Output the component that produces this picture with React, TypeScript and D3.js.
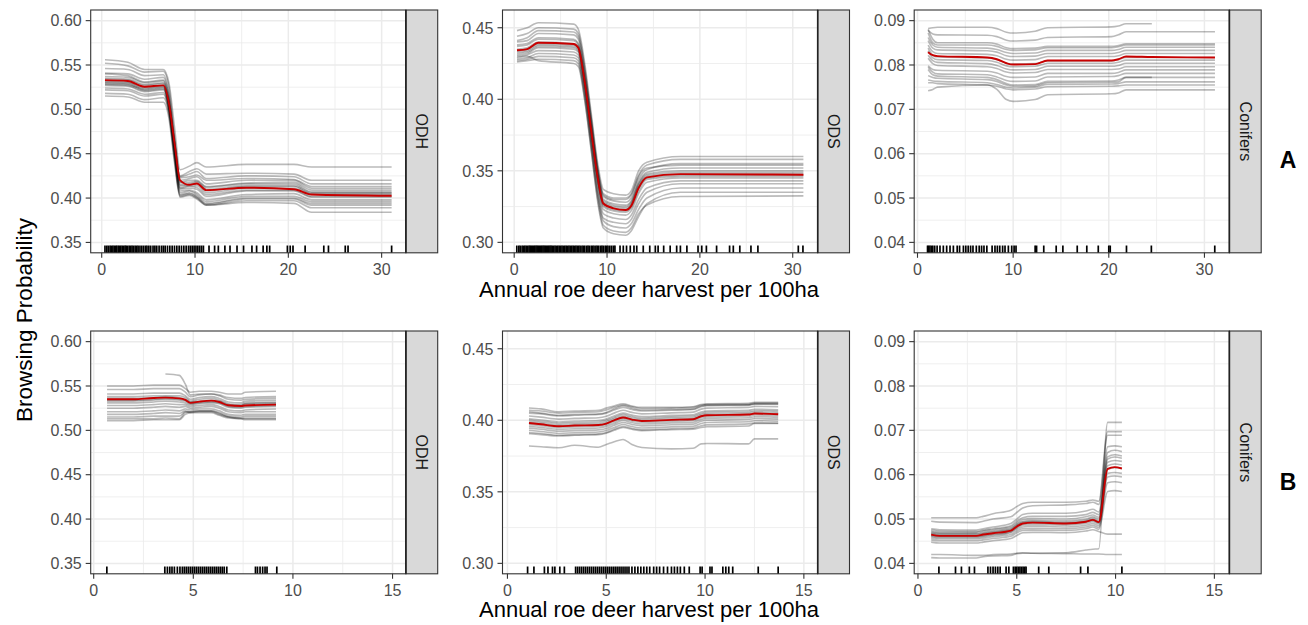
import React from 'react';
import * as d3 from 'd3';

const W = 1308;
const H = 625;

// ---------- row A : x grids, ICE curves, mean curve, rug ----------
const odhA_x = [0.35, 2.8, 4.6, 6.6, 7.2, 7.8, 8.4, 9.4, 10.2, 11.2, 15.5, 20.6, 22.5, 31.07];
const odhA_mean = [0.533, 0.532, 0.5255, 0.527, 0.507, 0.462, 0.42, 0.415, 0.4165, 0.409, 0.4117, 0.41, 0.404, 0.4026];
const odhA_ice = [
  [0.556, 0.553, 0.545, 0.545, 0.53, 0.48, 0.432, 0.436, 0.44, 0.435, 0.438, 0.438, 0.435, 0.435],
  [0.552, 0.549, 0.542, 0.543, 0.525, 0.47, 0.425, 0.43, 0.433, 0.427, 0.428, 0.427, 0.42, 0.42],
  [0.546, 0.545, 0.538, 0.539, 0.518, 0.466, 0.424, 0.427, 0.43, 0.422, 0.425, 0.424, 0.416, 0.416],
  [0.541, 0.54, 0.534, 0.536, 0.515, 0.465, 0.423, 0.424, 0.426, 0.42, 0.422, 0.421, 0.413, 0.413],
  [0.54, 0.538, 0.531, 0.533, 0.512, 0.462, 0.42, 0.422, 0.424, 0.416, 0.42, 0.42, 0.411, 0.411],
  [0.537, 0.536, 0.53, 0.532, 0.51, 0.462, 0.418, 0.42, 0.42, 0.413, 0.417, 0.418, 0.409, 0.409],
  [0.535, 0.534, 0.528, 0.53, 0.508, 0.46, 0.417, 0.418, 0.419, 0.412, 0.416, 0.416, 0.407, 0.407],
  [0.534, 0.533, 0.527, 0.529, 0.507, 0.458, 0.415, 0.416, 0.418, 0.41, 0.414, 0.414, 0.406, 0.406],
  [0.532, 0.531, 0.525, 0.527, 0.505, 0.456, 0.414, 0.415, 0.416, 0.408, 0.413, 0.413, 0.405, 0.405],
  [0.531, 0.53, 0.524, 0.526, 0.504, 0.455, 0.412, 0.414, 0.414, 0.406, 0.411, 0.411, 0.404, 0.404],
  [0.529, 0.528, 0.523, 0.525, 0.503, 0.454, 0.411, 0.413, 0.412, 0.404, 0.409, 0.409, 0.402, 0.402],
  [0.53, 0.529, 0.522, 0.524, 0.503, 0.453, 0.41, 0.411, 0.41, 0.402, 0.408, 0.408, 0.401, 0.401],
  [0.528, 0.527, 0.521, 0.523, 0.502, 0.452, 0.408, 0.409, 0.406, 0.398, 0.404, 0.405, 0.398, 0.398],
  [0.527, 0.526, 0.52, 0.522, 0.5, 0.45, 0.406, 0.408, 0.404, 0.396, 0.402, 0.402, 0.396, 0.396],
  [0.524, 0.523, 0.517, 0.519, 0.498, 0.448, 0.404, 0.406, 0.402, 0.394, 0.4, 0.4, 0.394, 0.394],
  [0.522, 0.521, 0.515, 0.517, 0.497, 0.446, 0.403, 0.405, 0.401, 0.393, 0.399, 0.399, 0.392, 0.392],
  [0.518, 0.517, 0.511, 0.513, 0.494, 0.443, 0.402, 0.404, 0.4, 0.392, 0.397, 0.397, 0.389, 0.389],
  [0.515, 0.514, 0.508, 0.508, 0.49, 0.44, 0.401, 0.403, 0.399, 0.392, 0.395, 0.394, 0.384, 0.384],
];
const odhA_rug = [
  0.35, 0.55, 0.72, 0.9, 1.05, 1.2, 1.35, 1.5, 1.62, 1.78, 1.9, 2.05, 2.2, 2.35, 2.5, 2.62, 2.78, 2.95, 3.1, 3.25,
  3.4, 3.58, 3.75, 3.9, 4.1, 4.3, 4.5, 4.7, 4.85, 5.05, 5.25, 5.5, 5.7, 5.9, 6.15, 6.4, 6.6, 6.8, 7.05, 7.3,
  7.55, 7.8, 8.05, 8.3, 8.55, 8.8, 9.05, 9.3, 9.5, 9.7, 9.9, 10.1, 10.3, 10.5, 10.7, 10.9, 11.5, 12.1, 12.5,
  13.2, 13.75, 14.5, 15.2, 16.1, 16.6, 17.3, 17.7, 18.0, 19.9, 20.2, 20.5, 21.8, 23.8, 24.3, 26.1, 26.4, 31.07,
];

const odsA_x = [0.3, 1.4, 2.6, 6.4, 6.9, 7.6, 8.3, 9.0, 9.6, 10.7, 12.0, 12.6, 13.4, 14.3, 17.9, 31.15];
const odsA_mean = [0.4343, 0.4351, 0.4395, 0.4386, 0.436, 0.412, 0.378, 0.345, 0.3272, 0.3238, 0.3226, 0.3255, 0.338, 0.3454, 0.3477, 0.3473];
const odsA_ice = [
  [0.448, 0.45, 0.4535, 0.4525, 0.449, 0.425, 0.39, 0.355, 0.337, 0.334, 0.333, 0.336, 0.35, 0.356, 0.36, 0.36],
  [0.444, 0.446, 0.45, 0.449, 0.446, 0.422, 0.387, 0.352, 0.334, 0.331, 0.331, 0.334, 0.347, 0.354, 0.358, 0.358],
  [0.441, 0.443, 0.448, 0.447, 0.444, 0.42, 0.386, 0.351, 0.333, 0.33, 0.33, 0.333, 0.346, 0.352, 0.354, 0.354],
  [0.44, 0.441, 0.446, 0.445, 0.442, 0.418, 0.384, 0.35, 0.332, 0.329, 0.328, 0.331, 0.344, 0.351, 0.355, 0.355],
  [0.438, 0.439, 0.443, 0.442, 0.439, 0.416, 0.382, 0.348, 0.33, 0.327, 0.326, 0.329, 0.342, 0.349, 0.352, 0.352],
  [0.437, 0.438, 0.442, 0.441, 0.438, 0.414, 0.38, 0.347, 0.329, 0.326, 0.325, 0.328, 0.341, 0.348, 0.35, 0.35],
  [0.435, 0.436, 0.44, 0.439, 0.437, 0.413, 0.379, 0.346, 0.328, 0.325, 0.324, 0.327, 0.34, 0.347, 0.349, 0.349],
  [0.434, 0.435, 0.439, 0.438, 0.436, 0.412, 0.378, 0.345, 0.327, 0.324, 0.323, 0.326, 0.339, 0.346, 0.348, 0.348],
  [0.433, 0.434, 0.438, 0.437, 0.435, 0.411, 0.377, 0.344, 0.326, 0.323, 0.322, 0.325, 0.338, 0.345, 0.347, 0.347],
  [0.432, 0.433, 0.437, 0.436, 0.434, 0.41, 0.376, 0.343, 0.325, 0.322, 0.321, 0.324, 0.336, 0.344, 0.346, 0.346],
  [0.431, 0.432, 0.436, 0.435, 0.433, 0.409, 0.375, 0.341, 0.323, 0.32, 0.319, 0.322, 0.334, 0.342, 0.345, 0.345],
  [0.43, 0.431, 0.434, 0.433, 0.431, 0.407, 0.372, 0.338, 0.32, 0.317, 0.316, 0.319, 0.33, 0.338, 0.343, 0.343],
  [0.428, 0.429, 0.432, 0.431, 0.429, 0.405, 0.37, 0.335, 0.317, 0.314, 0.313, 0.316, 0.327, 0.335, 0.341, 0.341],
  [0.427, 0.428, 0.43, 0.429, 0.427, 0.403, 0.368, 0.333, 0.315, 0.311, 0.31, 0.313, 0.323, 0.331, 0.338, 0.338],
  [0.429, 0.43, 0.427, 0.425, 0.423, 0.399, 0.364, 0.33, 0.312, 0.308, 0.307, 0.31, 0.32, 0.326, 0.332, 0.3325],
  [0.426, 0.427, 0.428, 0.427, 0.425, 0.4, 0.365, 0.328, 0.31, 0.306, 0.305, 0.308, 0.318, 0.327, 0.335, 0.335],
];
const odsA_rug = [
  0.28, 0.5, 0.65, 0.85, 1.0, 1.15, 1.3, 1.45, 1.6, 1.72, 1.85, 1.97, 2.1, 2.22, 2.35, 2.47, 2.6, 2.72, 2.85, 2.97,
  3.1, 3.22, 3.35, 3.47, 3.6, 3.72, 3.85, 3.97, 4.1, 4.25, 4.4, 4.55, 4.7, 4.85, 5.0, 5.15, 5.3, 5.45, 5.6, 5.75,
  5.9, 6.05, 6.2, 6.35, 6.5, 6.65, 6.8, 6.95, 7.1, 7.3, 7.45, 7.6, 7.8, 7.95, 8.1, 8.3, 8.45, 8.6, 8.8, 8.95,
  9.1, 9.3, 9.45, 9.6, 9.8, 9.95, 10.1, 10.3, 10.5, 10.7, 10.85, 11.4, 11.75, 12.1, 12.5, 12.9, 13.2, 13.9, 14.6,
  15.2, 15.5, 16.1, 16.8, 17.5, 17.9, 18.6, 19.8, 20.2, 20.7, 21.8, 23.2, 23.6, 24.3, 25.5, 26.25, 30.6, 31.1,
];

const conA_x = [1.11, 1.6, 2.1, 7.3, 8.3, 9.3, 10.0, 12.3, 13.6, 20.3, 21.0, 21.8, 24.5, 31.1];
const conA_mean = [0.0829, 0.0822, 0.082, 0.0817, 0.0813, 0.0804, 0.0801, 0.0802, 0.081, 0.081, 0.0813, 0.0819, 0.0818, 0.0817];
const conA_ice = [
  [0.0882, 0.0884, 0.0885, 0.0885, 0.0882, 0.0874, 0.0872, 0.0876, 0.0884, 0.0886, 0.0888, 0.0893, 0.0893, null],
  [0.0878, 0.087, 0.0868, 0.0867, 0.0864, 0.0856, 0.0854, 0.0856, 0.0862, 0.0864, 0.0868, 0.0875, 0.0875, 0.0875],
  [0.088, 0.0858, 0.085, 0.085, 0.0847, 0.0839, 0.0837, 0.0838, 0.0842, 0.0842, 0.0844, 0.0848, 0.0848, 0.0848],
  [0.0872, 0.085, 0.0845, 0.0845, 0.0842, 0.0835, 0.0833, 0.0834, 0.0839, 0.0839, 0.0841, 0.0845, 0.0845, 0.0845],
  [0.0862, 0.0845, 0.084, 0.0838, 0.0835, 0.0828, 0.0826, 0.0827, 0.0833, 0.0833, 0.0835, 0.084, 0.084, 0.084],
  [0.0855, 0.0838, 0.0834, 0.0832, 0.0829, 0.0821, 0.0819, 0.082, 0.0826, 0.0826, 0.0828, 0.0833, 0.0833, 0.0833],
  [0.0845, 0.083, 0.0826, 0.0824, 0.0821, 0.0813, 0.0811, 0.0812, 0.0819, 0.0819, 0.0821, 0.0826, 0.0826, 0.0826],
  [0.0838, 0.0822, 0.0818, 0.0816, 0.0812, 0.0804, 0.0802, 0.0803, 0.0809, 0.0809, 0.0812, 0.0817, 0.0817, 0.0817],
  [0.0832, 0.0816, 0.0812, 0.081, 0.0806, 0.0798, 0.0796, 0.0797, 0.0804, 0.0804, 0.0806, 0.0811, 0.0811, 0.0811],
  [0.0822, 0.081, 0.0806, 0.0803, 0.0799, 0.0791, 0.0789, 0.079, 0.0797, 0.0797, 0.0799, 0.0804, 0.0804, 0.0804],
  [0.0815, 0.0803, 0.0799, 0.0796, 0.0792, 0.0784, 0.0782, 0.0783, 0.079, 0.079, 0.0791, 0.0796, 0.0796, 0.0796],
  [0.0798, 0.079, 0.0788, 0.0786, 0.0782, 0.0774, 0.0772, 0.0773, 0.0781, 0.0781, 0.0783, 0.0789, 0.0789, 0.0789],
  [0.0795, 0.0784, 0.078, 0.0778, 0.0773, 0.0765, 0.0763, 0.0764, 0.0773, 0.0774, 0.0776, 0.0781, 0.0781, 0.0781],
  [0.079, 0.0778, 0.0775, 0.0772, 0.0767, 0.0758, 0.0755, 0.0756, 0.0763, 0.0764, 0.0766, 0.0772, 0.0772, null],
  [0.0776, 0.0772, 0.077, 0.0767, 0.0763, 0.0755, 0.0752, 0.0753, 0.076, 0.0761, 0.0762, 0.0772, 0.0772, 0.0772],
  [0.0766, 0.0764, 0.0763, 0.076, 0.0756, 0.075, 0.0748, 0.075, 0.0756, 0.0757, 0.0758, 0.0762, 0.0762, 0.0762],
  [0.076, 0.076, 0.0758, 0.0755, 0.0752, 0.0746, 0.0744, 0.0746, 0.0751, 0.0752, 0.0753, 0.0755, 0.0755, 0.0755],
  [0.0742, 0.0745, 0.075, 0.0755, 0.0745, 0.0722, 0.0718, 0.0722, 0.0733, 0.0735, 0.0737, 0.0744, 0.0744, 0.0744],
];
const conA_rug = [
  1.05, 1.15, 1.3, 1.45, 1.6, 1.8, 2.05, 2.35, 2.7, 3.05, 3.4, 3.75, 4.15, 4.4, 4.8, 5.05, 5.3, 5.55, 5.8, 6.15,
  6.45, 6.7, 6.95, 7.25, 7.8, 8.1, 8.35, 8.6, 8.9, 9.15, 9.5, 9.85, 10.1, 10.3, 12.3, 12.45, 13.2, 14.5, 15.2,
  16.7, 17.7, 18.9, 20.0, 20.15, 21.85, 24.45, 31.08,
];

// ---------- row B ----------
const odhB_x = [0.67, 2.0, 3.0, 3.6, 4.3, 4.6, 4.85, 5.3, 5.9, 6.3, 6.75, 7.4, 7.6, 9.15];
const odhB_mean = [0.535, 0.535, 0.5365, 0.5369, 0.536, 0.5343, 0.531, 0.5324, 0.5335, 0.532, 0.5283, 0.5275, 0.528, 0.529];
const odhB_ice = [
  [0.55, 0.55, 0.551, 0.551, 0.551, 0.547, 0.543, 0.544, 0.544, 0.543, 0.541, 0.541, 0.543, 0.544],
  [null, null, null, 0.5635, 0.562, 0.552, 0.54, 0.541, 0.541, 0.54, 0.537, 0.536, 0.537, 0.538],
  [0.546, 0.546, 0.547, 0.547, 0.547, 0.543, 0.538, 0.54, 0.541, 0.539, 0.535, 0.534, 0.535, 0.536],
  [0.541, 0.541, 0.542, 0.542, 0.542, 0.539, 0.535, 0.537, 0.538, 0.536, 0.532, 0.531, 0.533, 0.534],
  [0.538, 0.538, 0.539, 0.539, 0.539, 0.537, 0.533, 0.535, 0.536, 0.534, 0.53, 0.529, 0.531, 0.532],
  [0.536, 0.536, 0.537, 0.538, 0.537, 0.535, 0.532, 0.533, 0.534, 0.533, 0.529, 0.528, 0.53, 0.531],
  [0.534, 0.534, 0.535, 0.536, 0.535, 0.534, 0.531, 0.532, 0.533, 0.532, 0.528, 0.527, 0.529, 0.53],
  [0.533, 0.533, 0.534, 0.535, 0.534, 0.533, 0.53, 0.531, 0.532, 0.531, 0.527, 0.526, 0.527, 0.528],
  [0.531, 0.531, 0.532, 0.533, 0.532, 0.531, 0.529, 0.53, 0.531, 0.53, 0.526, 0.525, 0.526, 0.527],
  [0.528, 0.528, 0.529, 0.53, 0.529, 0.529, 0.527, 0.528, 0.529, 0.527, 0.523, 0.522, 0.523, 0.524],
  [0.525, 0.525, 0.526, 0.527, 0.526, 0.527, 0.525, 0.526, 0.527, 0.525, 0.521, 0.52, 0.521, 0.521],
  [0.521, 0.521, 0.522, 0.523, 0.522, 0.524, 0.523, 0.524, 0.524, 0.522, 0.518, 0.517, 0.518, 0.518],
  [0.518, 0.518, 0.519, 0.52, 0.519, 0.522, 0.521, 0.522, 0.522, 0.52, 0.516, 0.515, 0.516, 0.516],
  [0.515, 0.515, 0.516, 0.516, 0.516, 0.521, 0.52, 0.521, 0.521, 0.518, 0.515, 0.514, 0.514, 0.514],
  [0.513, 0.513, 0.513, 0.514, 0.513, 0.52, 0.521, 0.522, 0.522, 0.519, 0.515, 0.513, 0.513, 0.513],
  [0.511, 0.511, 0.512, 0.512, 0.512, 0.518, 0.52, 0.52, 0.52, 0.517, 0.514, 0.513, 0.512, 0.512],
];
const odhB_rug = [
  0.66, 3.57, 3.7, 3.82, 3.93, 4.05, 4.2, 4.33, 4.45, 4.55, 4.65, 4.75, 4.85, 4.95, 5.05, 5.15, 5.25, 5.35, 5.45,
  5.55, 5.65, 5.75, 5.85, 5.95, 6.05, 6.15, 6.25, 6.35, 6.45, 6.55, 6.68, 8.12, 8.22, 8.35, 8.48, 8.6, 8.7, 9.19,
];

const odsB_x = [1.09, 1.7, 2.6, 3.4, 4.6, 5.0, 5.4, 5.85, 6.3, 6.8, 8.3, 9.4, 9.8, 10.1, 12.2, 12.5, 13.7];
const odsB_mean = [0.3981, 0.3972, 0.3958, 0.3963, 0.3967, 0.3977, 0.4, 0.4019, 0.4005, 0.3995, 0.4003, 0.4007, 0.4028, 0.4035, 0.404, 0.4047, 0.4042];
const odsB_ice = [
  [0.382, 0.3815, 0.3808, 0.3825, 0.3812, 0.383, 0.385, 0.3866, 0.383, 0.381, 0.38, 0.3805, 0.3835, 0.3838, 0.3835, 0.387, 0.387],
  [0.4086, 0.408, 0.406, 0.4065, 0.407, 0.4085, 0.41, 0.4116, 0.41, 0.409, 0.409, 0.4095, 0.411, 0.4115, 0.4118, 0.4125, 0.4125],
  [0.407, 0.4065, 0.405, 0.4055, 0.406, 0.4072, 0.4092, 0.4108, 0.4095, 0.4082, 0.4085, 0.409, 0.4105, 0.411, 0.4112, 0.412, 0.412],
  [0.406, 0.405, 0.4035, 0.404, 0.4045, 0.4055, 0.408, 0.4102, 0.4085, 0.4072, 0.4075, 0.408, 0.41, 0.4106, 0.4108, 0.4115, 0.4115],
  [0.405, 0.4045, 0.403, 0.4035, 0.404, 0.405, 0.4072, 0.409, 0.4075, 0.4065, 0.407, 0.4075, 0.4095, 0.4102, 0.4105, 0.4112, 0.411],
  [0.403, 0.4022, 0.4008, 0.4013, 0.4018, 0.4028, 0.405, 0.407, 0.4055, 0.4045, 0.4052, 0.4057, 0.4078, 0.4085, 0.409, 0.4097, 0.4095],
  [0.401, 0.4002, 0.3988, 0.3993, 0.3998, 0.4008, 0.403, 0.405, 0.4036, 0.4026, 0.4034, 0.4038, 0.4058, 0.4065, 0.407, 0.4077, 0.4073],
  [0.4, 0.3992, 0.3978, 0.3983, 0.3988, 0.3998, 0.402, 0.404, 0.4026, 0.4016, 0.4024, 0.4028, 0.4048, 0.4055, 0.406, 0.4067, 0.4062],
  [0.399, 0.3982, 0.3968, 0.3973, 0.3978, 0.3988, 0.401, 0.403, 0.4016, 0.4006, 0.4014, 0.4018, 0.4038, 0.4045, 0.405, 0.4057, 0.4052],
  [0.398, 0.3972, 0.3958, 0.3963, 0.3968, 0.3978, 0.4, 0.402, 0.4006, 0.3996, 0.4004, 0.4008, 0.4028, 0.4035, 0.404, 0.4047, 0.4042],
  [0.397, 0.3962, 0.3948, 0.3953, 0.3958, 0.3968, 0.399, 0.401, 0.3996, 0.3986, 0.3994, 0.3998, 0.4018, 0.4025, 0.403, 0.4037, 0.4032],
  [0.3958, 0.395, 0.3936, 0.3941, 0.3946, 0.3956, 0.3978, 0.3998, 0.3984, 0.3974, 0.3982, 0.3986, 0.4006, 0.4013, 0.4018, 0.4025, 0.402],
  [0.3945, 0.3937, 0.3923, 0.3928, 0.3933, 0.3943, 0.3965, 0.3985, 0.3971, 0.3961, 0.3969, 0.3973, 0.3993, 0.4, 0.4005, 0.4012, 0.4008],
  [0.393, 0.3922, 0.3908, 0.3913, 0.3918, 0.3928, 0.395, 0.397, 0.3956, 0.3946, 0.3954, 0.3958, 0.3978, 0.3985, 0.399, 0.3997, 0.3993],
  [0.3915, 0.3908, 0.3895, 0.39, 0.3905, 0.3915, 0.3937, 0.3957, 0.3943, 0.3933, 0.3941, 0.3945, 0.3962, 0.3968, 0.3975, 0.3982, 0.398],
  [0.3907, 0.39, 0.389, 0.3895, 0.39, 0.391, 0.393, 0.395, 0.3937, 0.3928, 0.3935, 0.3938, 0.395, 0.3955, 0.396, 0.3978, 0.3978],
];
const odsB_rug = [
  1.02, 1.34, 1.87, 2.05, 2.28, 2.4, 2.65, 2.88, 3.45, 3.55, 3.65, 3.75, 3.85, 3.95, 4.05, 4.15, 4.25, 4.35, 4.45,
  4.55, 4.65, 4.75, 4.85, 4.95, 5.05, 5.15, 5.25, 5.35, 5.45, 5.55, 5.65, 5.75, 5.85, 5.95, 6.05, 6.15, 6.3, 6.45,
  6.6, 6.75, 6.9, 7.05, 7.2, 7.4, 7.55, 7.7, 7.9, 8.1, 8.3, 8.45, 8.6, 8.75, 8.95, 9.2, 9.75, 9.85, 10.25, 10.35,
  10.9, 11.05, 11.2, 11.4, 12.69, 13.7,
];

const conB_x = [0.67, 1.1, 2.95, 3.3, 3.8, 4.7, 5.0, 5.3, 5.8, 7.5, 8.5, 8.85, 9.15, 9.6, 9.95, 10.32];
const conB_mean = [0.0465, 0.0462, 0.0462, 0.0465, 0.0468, 0.0474, 0.0483, 0.049, 0.0492, 0.049, 0.0494, 0.0498, 0.0493, 0.0613, 0.0617, 0.0614];
const conB_ice = [
  [0.0413, 0.0412, 0.0412, 0.0415, 0.0417, 0.0418, 0.0422, 0.0423, 0.0423, 0.0424, 0.043, 0.0432, 0.0433, 0.0718, 0.0718, 0.0718],
  [0.042, 0.042, 0.0418, 0.0418, 0.042, 0.0421, 0.0423, 0.0424, 0.0423, 0.0422, 0.0421, 0.0421, 0.0421, 0.042, 0.042, 0.042],
  [0.0503, 0.0503, 0.0503, 0.0506, 0.0512, 0.052, 0.0528, 0.0535, 0.0538, 0.0538, 0.054, 0.0543, 0.054, 0.0697, 0.0697, 0.0697],
  [0.0495, 0.0493, 0.0492, 0.0495, 0.05, 0.0505, 0.0515, 0.0525, 0.053, 0.0532, 0.0535, 0.0538, 0.0533, 0.0689, 0.0689, 0.0689],
  [0.0478, 0.0476, 0.0475, 0.0478, 0.0482, 0.049, 0.05, 0.051, 0.0513, 0.0513, 0.0518, 0.0522, 0.0516, 0.0663, 0.0665, 0.0663],
  [0.0475, 0.0473, 0.0472, 0.0475, 0.0478, 0.0485, 0.0495, 0.0503, 0.0506, 0.0506, 0.051, 0.0515, 0.051, 0.065, 0.0655, 0.0652],
  [0.0472, 0.047, 0.047, 0.0473, 0.0476, 0.0482, 0.0491, 0.0499, 0.0501, 0.05, 0.0505, 0.0509, 0.0504, 0.064, 0.0645, 0.0642],
  [0.047, 0.0468, 0.0468, 0.047, 0.0473, 0.0479, 0.0488, 0.0495, 0.0497, 0.0496, 0.05, 0.0505, 0.05, 0.0635, 0.064, 0.0637],
  [0.0468, 0.0466, 0.0466, 0.0468, 0.0471, 0.0477, 0.0486, 0.0493, 0.0495, 0.0493, 0.0497, 0.0502, 0.0496, 0.0628, 0.0632, 0.063],
  [0.0466, 0.0464, 0.0464, 0.0466, 0.0469, 0.0475, 0.0484, 0.0491, 0.0493, 0.0491, 0.0495, 0.0499, 0.0494, 0.062, 0.0624, 0.0622],
  [0.0464, 0.0462, 0.0462, 0.0464, 0.0467, 0.0473, 0.0482, 0.0489, 0.0491, 0.0489, 0.0493, 0.0497, 0.0492, 0.0612, 0.0616, 0.0614],
  [0.0462, 0.046, 0.046, 0.0462, 0.0465, 0.0471, 0.048, 0.0486, 0.0488, 0.0486, 0.049, 0.0494, 0.0489, 0.0603, 0.0605, 0.0603],
  [0.046, 0.0458, 0.0458, 0.046, 0.0463, 0.0469, 0.0477, 0.0482, 0.0484, 0.0482, 0.0486, 0.049, 0.0485, 0.0595, 0.0597, 0.0595],
  [0.0457, 0.0455, 0.0455, 0.0457, 0.046, 0.0465, 0.0473, 0.0478, 0.0479, 0.0478, 0.0482, 0.0486, 0.0481, 0.0582, 0.0584, 0.0582],
  [0.0453, 0.0451, 0.0451, 0.0453, 0.0456, 0.0461, 0.0469, 0.0474, 0.0475, 0.0474, 0.0478, 0.0482, 0.0477, 0.0562, 0.0564, 0.0562],
  [0.0448, 0.0446, 0.0446, 0.0448, 0.0451, 0.0456, 0.0463, 0.0469, 0.047, 0.0469, 0.0473, 0.0476, 0.0472, 0.0466, 0.0466, 0.0466],
];
const conB_rug = [
  1.06, 1.9, 2.2, 2.6, 2.86, 3.54, 3.67, 3.8, 3.92, 4.04, 4.16, 4.46, 4.6, 4.83, 4.92, 5.0, 5.08, 5.16, 5.24,
  5.32, 5.4, 5.47, 6.11, 6.62, 8.23, 8.6, 10.32,
];

// axis ticks
const xTicksA = [0, 10, 20, 30];
const xMinorA = [5, 15, 25];
const xTicksB = [0, 5, 10, 15];
const xMinorB = [2.5, 7.5, 12.5];
const yTicksOdh = [0.35, 0.4, 0.45, 0.5, 0.55, 0.6];
const yMinorOdh = [0.375, 0.425, 0.475, 0.525, 0.575];
const yTicksOds = [0.3, 0.35, 0.4, 0.45];
const yMinorOds = [0.325, 0.375, 0.425];
const yTicksCon = [0.04, 0.05, 0.06, 0.07, 0.08, 0.09];
const yMinorCon = [0.045, 0.055, 0.065, 0.075, 0.085];

// layout
const colLeft = [90.7, 502.5, 914.2];
const rowTop = [10, 331];
const panelW = 315.2;
const panelH = 242.8;
const stripW = 31.8;
const FONT = '"Liberation Sans", Arial, Helvetica, sans-serif';

const panels = [
  { label: 'ODH', row: 0, col: 0, xd: [-1.18, 32.6], yd: [0.3383, 0.612], xt: xTicksA, xm: xMinorA, yt: yTicksOdh, ym: yMinorOdh, gx: odhA_x, ice: odhA_ice, mean: odhA_mean, rug: odhA_rug },
  { label: 'ODS', row: 0, col: 1, xd: [-1.26, 32.69], yd: [0.2927, 0.4624], xt: xTicksA, xm: xMinorA, yt: yTicksOds, ym: yMinorOds, gx: odsA_x, ice: odsA_ice, mean: odsA_mean, rug: odsA_rug },
  { label: 'Conifers', row: 0, col: 2, xd: [-0.345, 32.61], yd: [0.03765, 0.0924], xt: xTicksA, xm: xMinorA, yt: yTicksCon, ym: yMinorCon, gx: conA_x, ice: conA_ice, mean: conA_mean, rug: conA_rug },
  { label: 'ODH', row: 1, col: 0, xd: [-0.15, 15.67], yd: [0.3383, 0.612], xt: xTicksB, xm: xMinorB, yt: yTicksOdh, ym: yMinorOdh, gx: odhB_x, ice: odhB_ice, mean: odhB_mean, rug: odhB_rug },
  { label: 'ODS', row: 1, col: 1, xd: [-0.25, 15.7], yd: [0.2927, 0.4624], xt: xTicksB, xm: xMinorB, yt: yTicksOds, ym: yMinorOds, gx: odsB_x, ice: odsB_ice, mean: odsB_mean, rug: odsB_rug },
  { label: 'Conifers', row: 1, col: 2, xd: [-0.19, 15.76], yd: [0.03765, 0.0924], xt: xTicksB, xm: xMinorB, yt: yTicksCon, ym: yMinorCon, gx: conB_x, ice: conB_ice, mean: conB_mean, rug: conB_rug },
];

const fmt = d3.format('.2f');

function Panel({ p }: { p: any }) {
  const left = colLeft[p.col];
  const top = rowTop[p.row];
  const right = left + panelW;
  const bottom = top + panelH;
  const x = d3.scaleLinear().domain(p.xd).range([left, right]);
  const y = d3.scaleLinear().domain(p.yd).range([bottom, top]);
  const line = d3
    .line<[number, number | null]>()
    .defined((d) => d[1] != null)
    .x((d) => x(d[0]))
    .y((d) => y(d[1] as number))
    .curve(d3.curveMonotoneX);
  const rugLen = panelH * 0.03;

  return (
    <g>
      <rect x={left} y={top} width={panelW} height={panelH} fill="#fff" />
      {p.ym.map((v: number) => (
        <line key={'ym' + v} x1={left} x2={right} y1={y(v)} y2={y(v)} stroke="#EBEBEB" strokeWidth={0.8} />
      ))}
      {p.xm.map((v: number) => (
        <line key={'xm' + v} x1={x(v)} x2={x(v)} y1={top} y2={bottom} stroke="#EBEBEB" strokeWidth={0.8} />
      ))}
      {p.yt.map((v: number) => (
        <line key={'yt' + v} x1={left} x2={right} y1={y(v)} y2={y(v)} stroke="#EBEBEB" strokeWidth={1.5} />
      ))}
      {p.xt.map((v: number) => (
        <line key={'xt' + v} x1={x(v)} x2={x(v)} y1={top} y2={bottom} stroke="#EBEBEB" strokeWidth={1.5} />
      ))}
      {p.ice.map((vals: (number | null)[], i: number) => (
        <path
          key={'ice' + i}
          d={line(p.gx.map((gx: number, j: number) => [gx, vals[j]])) || ''}
          fill="none"
          stroke="#000"
          strokeOpacity={0.27}
          strokeWidth={1.6}
        />
      ))}
      <path
        d={line(p.gx.map((gx: number, j: number) => [gx, p.mean[j]])) || ''}
        fill="none"
        stroke="#C80000"
        strokeWidth={1.9}
      />
      {p.rug.map((v: number, i: number) => (
        <line key={'r' + i} x1={x(v)} x2={x(v)} y1={bottom} y2={bottom - rugLen} stroke="#000" strokeWidth={1.7} />
      ))}
      <rect x={left} y={top} width={panelW} height={panelH} fill="none" stroke="#333" strokeWidth={1.1} />
      <rect x={right} y={top} width={stripW} height={panelH} fill="#D9D9D9" stroke="#333" strokeWidth={1.1} />
      <line x1={right} x2={right} y1={top} y2={bottom} stroke="#222" strokeWidth={1.6} />
      <text
        transform={`translate(${right + stripW / 2},${top + panelH / 2}) rotate(90)`}
        textAnchor="middle"
        dy="0.35em"
        fontSize={16}
        fill="#1A1A1A"
        fontFamily={FONT}
      >
        {p.label}
      </text>
      {p.yt.map((v: number) => (
        <g key={'yl' + v}>
          <line x1={left - 5} x2={left} y1={y(v)} y2={y(v)} stroke="#333" strokeWidth={1.1} />
          <text x={left - 9} y={y(v)} dy="0.36em" textAnchor="end" fontSize={16} fill="#4D4D4D" fontFamily={FONT}>
            {fmt(v)}
          </text>
        </g>
      ))}
      {p.xt.map((v: number) => (
        <g key={'xl' + v}>
          <line x1={x(v)} x2={x(v)} y1={bottom} y2={bottom + 5} stroke="#333" strokeWidth={1.1} />
          <text x={x(v)} y={bottom + 22} textAnchor="middle" fontSize={16} fill="#4D4D4D" fontFamily={FONT}>
            {v}
          </text>
        </g>
      ))}
    </g>
  );
}

export default function App() {
  return (
    <>
      <style>{'body{margin:0}'}</style>
      <svg width={W} height={H} style={{ display: 'block', background: '#fff' }}>
        <rect width={W} height={H} fill="#fff" />
        {panels.map((p, i) => (
          <Panel key={i} p={p} />
        ))}
        <text x={649} y={297} textAnchor="middle" fontSize={22} fill="#000" fontFamily={FONT}>
          Annual roe deer harvest per 100ha
        </text>
        <text x={649} y={617} textAnchor="middle" fontSize={22} fill="#000" fontFamily={FONT}>
          Annual roe deer harvest per 100ha
        </text>
        <text transform="translate(32,320) rotate(-90)" textAnchor="middle" fontSize={22.5} fill="#000" fontFamily={FONT}>
          Browsing Probability
        </text>
        <text x={1288} y={168} textAnchor="middle" fontSize={23} fontWeight="bold" fill="#000" fontFamily={FONT}>
          A
        </text>
        <text x={1288} y={490} textAnchor="middle" fontSize={23} fontWeight="bold" fill="#000" fontFamily={FONT}>
          B
        </text>
      </svg>
    </>
  );
}
